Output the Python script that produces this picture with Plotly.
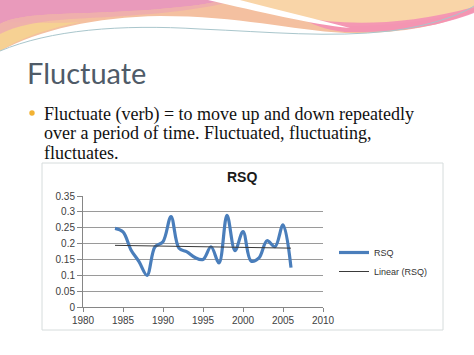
import numpy as np
import plotly.graph_objects as go

# ---------------- data ----------------
years = [1984, 1985, 1986, 1987, 1988, 1989, 1990, 1991, 1992, 1993, 1994, 1995,
         1996, 1997, 1998, 1999, 2000, 2001, 2002, 2003, 2004, 2005, 2006]
rsq = [0.248, 0.237, 0.180, 0.143, 0.100, 0.190, 0.206, 0.285, 0.185, 0.174, 0.156, 0.150,
       0.190, 0.139, 0.289, 0.178, 0.238, 0.145, 0.155, 0.209, 0.190, 0.259, 0.124]
x_ticks = [1980, 1985, 1990, 1995, 2000, 2005, 2010]
y_ticks = [0, 0.05, 0.1, 0.15, 0.2, 0.25, 0.3, 0.35]
y_tick_labels = ["0", "0.05", "0.1", "0.15", "0.2", "0.25", "0.3", "0.35"]
chart_title = "RSQ"
series_name = "RSQ"
trend_name = "Linear (RSQ)"
slide_title = "Fluctuate"
bullet_lines = ["Fluctuate (verb) = to move up and down repeatedly",
                "over a period of time. Fluctuated, fluctuating,",
                "fluctuates."]

W, H = 474, 355


def X(px):
    return px / W


def Y(py):
    return 1 - py / H


def P(px, py):
    return f"{X(px):.4f},{Y(py):.4f}"


# linear trend (least squares)
coef = np.polyfit(years, rsq, 1)
trend_x = [years[0], years[-1]]
trend_y = list(np.polyval(coef, trend_x))

fig = go.Figure()
fig.add_trace(go.Scatter(x=years, y=rsq, mode="lines", name=series_name,
                         line=dict(color="#4a7ebb", width=3.2, shape="spline", smoothing=1.0)))
fig.add_trace(go.Scatter(x=trend_x, y=trend_y, mode="lines", name=trend_name,
                         line=dict(color="#3a3a3a", width=1)))

shapes = []
# chart frame
shapes.append(dict(type="rect", xref="paper", yref="paper", x0=X(42), x1=X(443), y0=Y(330), y1=Y(163),
                   line=dict(color="#d6dcdc", width=1), fillcolor="rgba(0,0,0,0)", layer="below"))
# decorative header wave
shapes.append(dict(type="path", xref="paper", yref="paper", layer="below",
                   path=f"M{P(0,0)} L{P(474,0)} L{P(474,12)} C{P(440,26)} {P(400,34)} {P(345,33)} "
                        f"C{P(290,30)} {P(240,16)} {P(160,16)} C{P(95,17)} {P(40,30)} {P(0,51)} Z",
                   fillcolor="#f4c0a0", line=dict(width=0)))
shapes.append(dict(type="path", xref="paper", yref="paper", layer="below",
                   path=f"M{P(0,22)} C{P(20,22)} {P(50,24)} {P(80,22)} C{P(50,28)} {P(20,38)} {P(0,51)} Z",
                   fillcolor="#f6d490", opacity=0.85, line=dict(width=0)))
shapes.append(dict(type="path", xref="paper", yref="paper", layer="below",
                   path=f"M{P(0,0)} L{P(225,0)} C{P(190,9)} {P(120,12)} {P(60,14)} C{P(30,15)} {P(10,18)} {P(0,24)} Z",
                   fillcolor="#e99abb", line=dict(width=0)))
shapes.append(dict(type="path", xref="paper", yref="paper", layer="below",
                   path=f"M{P(0,24)} C{P(10,18)} {P(30,15)} {P(60,14)} C{P(120,12)} {P(190,9)} {P(225,0)} "
                        f"L{P(235,0)} C{P(200,12)} {P(130,16)} {P(70,19)} C{P(40,21)} {P(15,26)} {P(0,34)} Z",
                   fillcolor="#eeaab0", opacity=0.8, line=dict(width=0)))
shapes.append(dict(type="path", xref="paper", yref="paper", layer="below",
                   path=f"M{P(240,0)} L{P(474,0)} L{P(474,9)} C{P(430,22)} {P(380,27)} {P(340,26)} "
                        f"C{P(300,20)} {P(270,10)} {P(240,0)} Z",
                   fillcolor="#f9d5a8", line=dict(width=0)))
shapes.append(dict(type="path", xref="paper", yref="paper", layer="below",
                   path=f"M{P(300,17)} C{P(340,25)} {P(400,27)} {P(474,7)} L{P(474,13)} "
                        f"C{P(440,26)} {P(400,33)} {P(345,32)} C{P(325,30)} {P(310,24)} {P(300,17)} Z",
                   fillcolor="#f38db5", opacity=0.85, line=dict(width=0)))
shapes.append(dict(type="path", xref="paper", yref="paper", layer="below",
                   path=f"M{P(208,0)} L{P(240,0)} C{P(275,9)} {P(315,19)} {P(350,28)} "
                        f"C{P(310,24)} {P(260,12)} {P(208,0)} Z",
                   fillcolor="#ffffff", line=dict(width=0)))
shapes.append(dict(type="path", xref="paper", yref="paper", layer="below",
                   path=f"M{P(0,51)} C{P(50,30)} {P(120,24)} {P(200,29)} C{P(270,32)} {P(330,38)} {P(390,31)} "
                        f"C{P(430,26)} {P(460,15)} {P(474,6)}",
                   line=dict(color="#a9c6cc", width=1)))
# bullet dot
shapes.append(dict(type="circle", xref="paper", yref="paper", x0=X(29.3), x1=X(34.7), y0=Y(115.7), y1=Y(110.3),
                   fillcolor="#f2b233", line=dict(width=0)))

annotations = []
annotations.append(dict(text=slide_title, xref="paper", yref="paper", x=X(25), y=Y(73), xanchor="left",
                        yanchor="middle", showarrow=False,
                        font=dict(family="Lato", size=29, color="#4f5b68")))
for i, line in enumerate(bullet_lines):
    annotations.append(dict(text=line, xref="paper", yref="paper", x=X(42), y=Y(114 + 19.5 * i),
                            xanchor="left", yanchor="middle", showarrow=False,
                            font=dict(family="Liberation Serif", size=18, color="#111111")))
annotations.append(dict(text=f"<b>{chart_title}</b>", xref="paper", yref="paper", x=X(242), y=Y(177),
                        xanchor="center", yanchor="middle", showarrow=False,
                        font=dict(family="Liberation Sans", size=14, color="#1a1a1a")))

fig.update_layout(
    width=W, height=H,
    margin=dict(l=0, r=0, t=0, b=0, autoexpand=False),
    paper_bgcolor="white", plot_bgcolor="white",
    shapes=shapes, annotations=annotations,
    showlegend=True,
    legend=dict(x=X(334), y=Y(238), xanchor="left", yanchor="top", bgcolor="rgba(0,0,0,0)",
                font=dict(family="Liberation Sans", size=9, color="#333333"), itemwidth=30,
                tracegroupgap=0),
    xaxis=dict(domain=[X(83), X(323)], range=[1980, 2010], tickvals=x_ticks, automargin=False,
               showgrid=False, zeroline=False, showline=True, linecolor="#868686", linewidth=1,
               ticks="outside", ticklen=4, tickcolor="#868686",
               tickfont=dict(family="Liberation Sans", size=10, color="#404040")),
    yaxis=dict(domain=[Y(307), Y(196)], range=[0, 0.35], tickvals=y_ticks, ticktext=y_tick_labels,
               automargin=False,
               showgrid=True, gridcolor="#9a9a9a", gridwidth=1, zeroline=False,
               showline=True, linecolor="#868686", linewidth=1,
               ticks="outside", ticklen=5, tickcolor="#868686",
               tickfont=dict(family="Liberation Sans", size=10, color="#404040")),
)

fig.write_html("out.html", config={"displayModeBar": False},
               post_script="document.body.style.margin='0px';")
